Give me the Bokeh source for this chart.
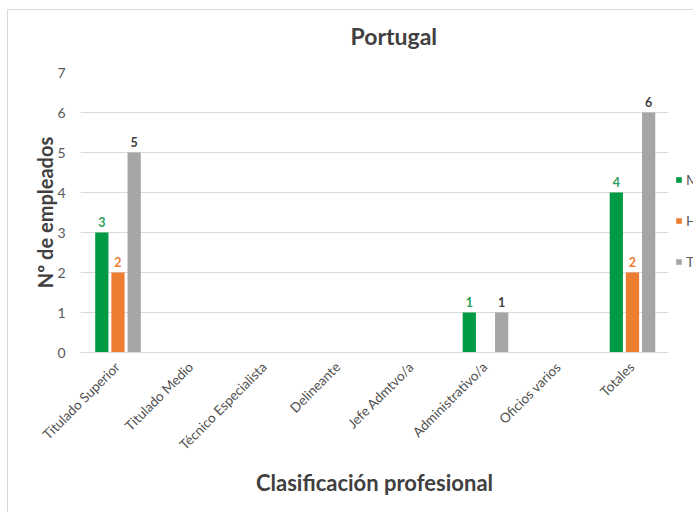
import math
from bokeh.plotting import figure
from bokeh.layouts import row
from bokeh.models import ColumnDataSource, FixedTicker, Legend, LegendItem, Title
from bokeh.transform import dodge
from bokeh.core.properties import value
from bokeh.embed import file_html
from bokeh.resources import INLINE

categories = ["Titulado Superior", "Titulado Medio", "Técnico Especialista", "Delineante",
              "Jefe Admtvo/a", "Administrativo/a", "Oficios varios", "Totales"]
series_names = ["MUJERES", "HOMBRES", "TOTAL"]
mujeres = [3, 0, 0, 0, 0, 1, 0, 4]
hombres = [2, 0, 0, 0, 0, 0, 0, 2]
total = [5, 0, 0, 0, 0, 1, 0, 6]
y_ticks = [0, 1, 2, 3, 4, 5, 6, 7]

colors = ["#009A44", "#ED7D31", "#A5A5A5"]
label_colors = ["#2E9E5B", "#ED7D31", "#404040"]
FONT = "Lato"

src = ColumnDataSource(dict(cat=categories, m=mujeres, h=hombres, t=total))

p = figure(x_range=categories, y_range=(0, 7), width=667, height=502, title=None,
           output_backend="svg", toolbar_location=None,
           min_border_left=72, min_border_right=7, min_border_top=62, min_border_bottom=160)

# title (a blank spacer title sits between the frame and the real title)
p.add_layout(Title(text=" ", text_font_size="14px", standoff=0), "above")
p.add_layout(Title(text="Portugal", align="left", offset=270, standoff=10,
                   text_font=FONT, text_font_size="23px", text_color="#404040"), "above")

offsets = [-0.22, 0.0, 0.22]
fields = ["m", "h", "t"]
vals = [mujeres, hombres, total]
for off, f, c, lc, v in zip(offsets, fields, colors, label_colors, vals):
    p.vbar(x=dodge("cat", off + 0.01, range=p.x_range), top=f, width=0.18,
           source=src, color=c, line_color=None)
    lab_src = ColumnDataSource(dict(
        cat=[cc for cc, vv in zip(categories, v) if vv > 0],
        y=[vv for vv in v if vv > 0],
        txt=[str(vv) for vv in v if vv > 0]))
    p.text(x=dodge("cat", off + 0.01, range=p.x_range), y="y", text="txt", source=lab_src,
           text_align="center", text_baseline="bottom", y_offset=-6,
           text_font=value(FONT), text_font_size="12.5px", text_font_style="bold",
           text_color=lc)

# axes
p.yaxis.ticker = FixedTicker(ticks=y_ticks)
p.yaxis.axis_line_color = None
p.yaxis.major_tick_line_color = None
p.yaxis.minor_tick_line_color = None
p.yaxis.major_label_text_font = FONT
p.yaxis.major_label_text_font_size = "14px"
p.yaxis.major_label_text_color = "#595959"
p.yaxis.major_label_standoff = 9
p.yaxis.axis_label = "Nº de empleados"
p.yaxis.axis_label_text_font = FONT
p.yaxis.axis_label_text_font_size = "20px"
p.yaxis.axis_label_text_font_style = "bold"
p.yaxis.axis_label_text_color = "#404040"
p.yaxis.axis_label_standoff = -3

p.xaxis.axis_line_color = "#D9D9D9"
p.xaxis.major_tick_line_color = None
p.xaxis.minor_tick_line_color = None
p.xaxis.major_label_orientation = math.pi / 4
p.xaxis.major_label_text_font = FONT
p.xaxis.major_label_text_font_size = "13.5px"
p.xaxis.major_label_text_color = "#505050"
p.xaxis.major_label_standoff = 6
p.xaxis.axis_label = "Clasificación profesional"
p.xaxis.axis_label_text_font = FONT
p.xaxis.axis_label_text_font_size = "22px"
p.xaxis.axis_label_text_font_style = "bold"
p.xaxis.axis_label_text_color = "#404040"
p.xaxis.axis_label_standoff = 8

p.xgrid.grid_line_color = None
p.ygrid.grid_line_color = "#D9D9D9"
p.outline_line_color = None

# legend panel at the right edge (cut off by the window, as in the original)
pl = figure(width=18, height=502, x_range=(0, 1), y_range=(0, 1), title=None,
            output_backend="svg", toolbar_location=None,
            x_axis_location=None, y_axis_location=None, min_border=0)
pl.grid.visible = False
pl.outline_line_color = None
# proxy renderers for the legend keys (placed outside this panel's visible range)
leg_renderers = [pl.vbar(x=[-5], top=[0], width=0.1, color=c, line_color=None) for c in colors]
legend = Legend(items=[LegendItem(label=n, renderers=[r]) for n, r in zip(series_names, leg_renderers)],
                location=(0, 81), orientation="vertical",
                glyph_width=7, glyph_height=7, label_height=20, spacing=21,
                label_text_font=FONT, label_text_font_size="14px", label_text_color="#595959",
                border_line_color=None, background_fill_alpha=0, padding=0, margin=0,
                label_standoff=4)
pl.add_layout(legend, "center")

layout = row(p, pl, spacing=0)
layout.styles = {"margin-left": "7px", "margin-top": "9px",
                 "border-left": "1px solid #d9d9d9", "border-top": "1px solid #d9d9d9"}

open("out.html", "w").write(file_html(layout, INLINE))
